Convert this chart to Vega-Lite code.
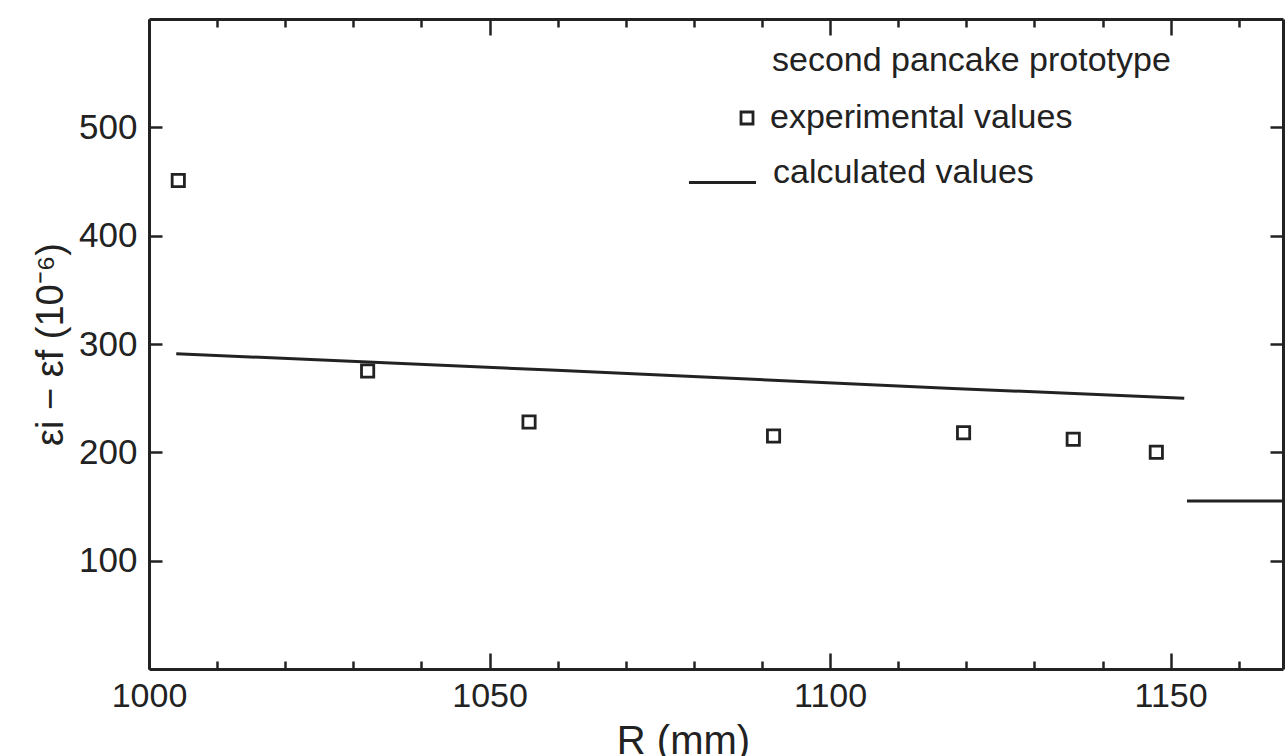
{
  "$schema": "https://vega.github.io/schema/vega-lite/v6.json",
  "width": 1134,
  "height": 650,
  "autosize": {"type": "none"},
  "padding": {"left": 149, "top": 19, "right": 4, "bottom": 87},
  "background": "white",
  "config": {
    "view": {"stroke": null},
    "font": "Liberation Sans",
    "axis": {
      "domainColor": "#222",
      "domainWidth": 3,
      "tickColor": "#222",
      "tickWidth": 2.5,
      "labelColor": "#222",
      "labelFont": "Liberation Sans",
      "labelFontSize": 34,
      "titleColor": "#222",
      "titleFont": "Liberation Sans",
      "titleFontWeight": "normal",
      "grid": false
    },
    "legend": {
      "labelFont": "Liberation Sans",
      "labelFontSize": 34,
      "labelColor": "#222",
      "labelLimit": 0,
      "titleFont": "Liberation Sans",
      "titleFontSize": 34,
      "titleFontWeight": "normal",
      "titleColor": "#222",
      "titleLimit": 0
    }
  },
  "datasets": {
    "experimental": [
      {"R": 1004.3, "strain": 451, "series": "experimental values"},
      {"R": 1032.1, "strain": 275, "series": "experimental values"},
      {"R": 1055.8, "strain": 228, "series": "experimental values"},
      {"R": 1091.7, "strain": 215, "series": "experimental values"},
      {"R": 1119.6, "strain": 218, "series": "experimental values"},
      {"R": 1135.7, "strain": 212, "series": "experimental values"},
      {"R": 1147.9, "strain": 200, "series": "experimental values"}
    ],
    "calculated": [
      {"R": 1004, "strain": 291, "series": "calculated values"},
      {"R": 1059, "strain": 276, "series": "calculated values"},
      {"R": 1118, "strain": 259, "series": "calculated values"},
      {"R": 1152, "strain": 250, "series": "calculated values"}
    ],
    "segment": [
      {"R": 1152.4, "strain": 155},
      {"R": 1166.5, "strain": 155}
    ]
  },
  "layer": [
    {
      "data": {"name": "experimental"},
      "mark": {"type": "point", "filled": false, "color": "#222", "strokeWidth": 2.8, "opacity": 1, "size": 150},
      "encoding": {
        "x": {
          "field": "R",
          "type": "quantitative",
          "scale": {"domain": [1000, 1166.5], "nice": false, "zero": false},
          "axis": {
            "orient": "bottom",
            "values": [1000, 1010, 1020, 1030, 1040, 1050, 1060, 1070, 1080, 1090, 1100, 1110, 1120, 1130, 1140, 1150, 1160],
            "tickSize": {"condition": {"test": "datum.value % 50 === 0", "value": -16}, "value": -8},
            "labelExpr": "datum.value % 50 === 0 ? datum.label : ''",
            "format": "d",
            "labelFlush": false,
            "labelOverlap": false,
            "labelPadding": 26,
            "title": "R (mm)",
            "titleFontSize": 40,
            "titlePadding": 0,
            "titleX": 534
          }
        },
        "y": {
          "field": "strain",
          "type": "quantitative",
          "scale": {"domain": [0, 600], "nice": false},
          "axis": {
            "orient": "left",
            "values": [100, 200, 300, 400, 500],
            "tickSize": -13,
            "labelPadding": 25,
            "labelFontSize": 35,
            "title": "εi − εf (10⁻⁶)",
            "titleFontSize": 38,
            "titlePadding": 8
          }
        },
        "shape": {
          "field": "series",
          "type": "nominal",
          "scale": {"range": ["square"]},
          "legend": {
            "orient": "none",
            "legendX": 623,
            "legendY": 25,
            "title": "second pancake prototype",
            "titlePadding": 23,
            "labelOffset": 6,
            "symbolOffset": -42,
            "symbolSize": 144,
            "symbolStrokeColor": "#222",
            "symbolStrokeWidth": 2.8,
            "symbolFillColor": "transparent",
            "symbolOpacity": 1
          }
        }
      }
    },
    {
      "data": {"name": "calculated"},
      "mark": {"type": "line", "strokeWidth": 3},
      "encoding": {
        "x": {
          "field": "R",
          "type": "quantitative",
          "axis": {
            "orient": "top",
            "values": [1000, 1010, 1020, 1030, 1040, 1050, 1060, 1070, 1080, 1090, 1100, 1110, 1120, 1130, 1140, 1150, 1160],
            "tickSize": {"condition": {"test": "datum.value % 50 === 0", "value": -16}, "value": -8},
            "labels": false,
            "title": null
          }
        },
        "y": {
          "field": "strain",
          "type": "quantitative",
          "axis": {
            "orient": "right",
            "values": [100, 200, 300, 400, 500],
            "tickSize": -13,
            "labels": false,
            "title": null
          }
        },
        "color": {
          "field": "series",
          "type": "nominal",
          "scale": {"range": ["#222222"]},
          "legend": {
            "orient": "none",
            "legendX": 538,
            "legendY": 128,
            "title": null,
            "labelOffset": 15,
            "labelBaseline": "alphabetic",
            "symbolType": "stroke",
            "symbolSize": 4500,
            "symbolStrokeWidth": 3,
            "symbolStrokeColor": "#222"
          }
        }
      }
    },
    {
      "data": {"name": "segment"},
      "mark": {"type": "line", "color": "#222", "strokeWidth": 3},
      "encoding": {
        "x": {"field": "R", "type": "quantitative", "axis": null},
        "y": {"field": "strain", "type": "quantitative", "axis": null}
      }
    }
  ],
  "resolve": {"axis": {"x": "independent", "y": "independent"}}
}
